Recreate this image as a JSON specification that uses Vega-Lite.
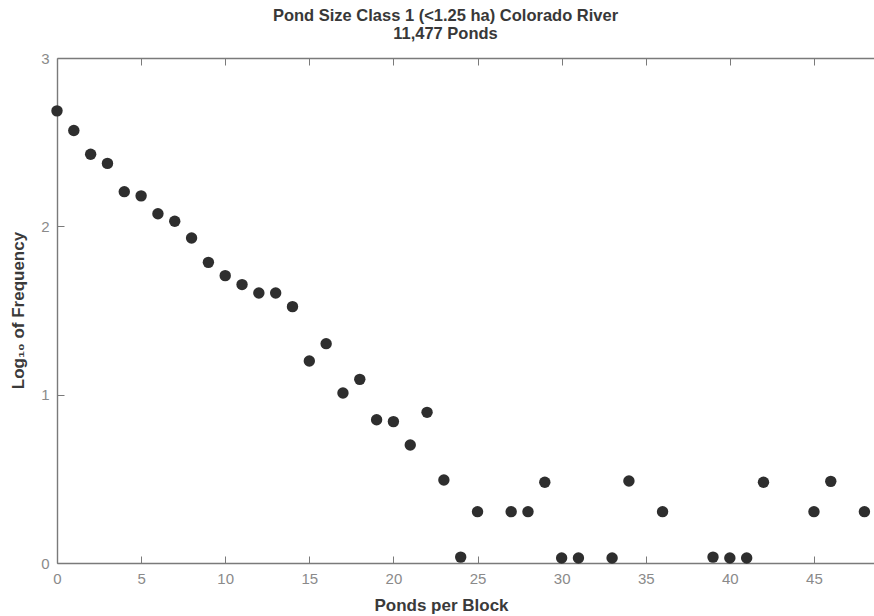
{
  "$schema": "https://vega.github.io/schema/vega-lite/v6.json",
  "autosize": {"type": "none"},
  "width": 817,
  "height": 505,
  "padding": {"left": 57, "top": 58, "right": 0, "bottom": 53},
  "background": "#ffffff",
  "config": {
    "view": {"stroke": null},
    "font": "Liberation Sans",
    "axis": {"grid": false}
  },
  "title": {
    "text": ["Pond Size Class 1 (<1.25 ha) Colorado River", "11,477 Ponds"],
    "anchor": "middle",
    "frame": "group",
    "dx": -20,
    "offset": 9,
    "fontSize": 16.5,
    "fontWeight": "bold",
    "color": "#383838",
    "lineHeight": 18,
    "font": "Liberation Sans"
  },
  "data": {
    "values": [
      {"ponds": 0, "logf": 2.686},
      {"ponds": 1, "logf": 2.569},
      {"ponds": 2, "logf": 2.428},
      {"ponds": 3, "logf": 2.374},
      {"ponds": 4, "logf": 2.206},
      {"ponds": 5, "logf": 2.181},
      {"ponds": 6, "logf": 2.075},
      {"ponds": 7, "logf": 2.030},
      {"ponds": 8, "logf": 1.931},
      {"ponds": 9, "logf": 1.786},
      {"ponds": 10, "logf": 1.707},
      {"ponds": 11, "logf": 1.654},
      {"ponds": 12, "logf": 1.604},
      {"ponds": 13, "logf": 1.604},
      {"ponds": 14, "logf": 1.523},
      {"ponds": 15, "logf": 1.200},
      {"ponds": 16, "logf": 1.303},
      {"ponds": 17, "logf": 1.010},
      {"ponds": 18, "logf": 1.091},
      {"ponds": 19, "logf": 0.851},
      {"ponds": 20, "logf": 0.840},
      {"ponds": 21, "logf": 0.701},
      {"ponds": 22, "logf": 0.895},
      {"ponds": 23, "logf": 0.493},
      {"ponds": 24, "logf": 0.035},
      {"ponds": 25, "logf": 0.305},
      {"ponds": 27, "logf": 0.305},
      {"ponds": 28, "logf": 0.305},
      {"ponds": 29, "logf": 0.480},
      {"ponds": 30, "logf": 0.03},
      {"ponds": 31, "logf": 0.03},
      {"ponds": 33, "logf": 0.03},
      {"ponds": 34, "logf": 0.487},
      {"ponds": 36, "logf": 0.305},
      {"ponds": 39, "logf": 0.035},
      {"ponds": 40, "logf": 0.03},
      {"ponds": 41, "logf": 0.03},
      {"ponds": 42, "logf": 0.480},
      {"ponds": 45, "logf": 0.305},
      {"ponds": 46, "logf": 0.485},
      {"ponds": 48, "logf": 0.305}
    ]
  },
  "layer": [
    {
      "mark": {"type": "circle", "size": 130, "color": "#2e2e2e", "opacity": 1},
      "encoding": {
        "x": {
          "field": "ponds",
          "type": "quantitative",
          "scale": {"domain": [0, 48.57], "nice": false, "zero": false},
          "axis": {
            "orient": "bottom",
            "values": [0, 5, 10, 15, 20, 25, 30, 35, 40, 45],
            "format": "d",
            "title": "Ponds per Block",
            "titleFontSize": 17,
            "titleFontWeight": "bold",
            "titleColor": "#3a3a3a",
            "titleX": 384,
            "titleY": 47,
            "titleBaseline": "alphabetic",
            "titleAnchor": "middle",
            "domainColor": "#7a7a7a",
            "domainWidth": 1.4,
            "tickColor": "#7a7a7a",
            "tickSize": -7,
            "labelColor": "#8a8a8a",
            "labelFontSize": 15,
            "labelPadding": 15,
            "labelFlush": false
          }
        },
        "y": {
          "field": "logf",
          "type": "quantitative",
          "scale": {"domain": [0, 3], "nice": false},
          "axis": {
            "values": [0, 1, 2, 3],
            "format": "d",
            "title": "Log₁₀ of Frequency",
            "titleFontSize": 17,
            "titleFontWeight": "bold",
            "titleColor": "#3a3a3a",
            "titleX": -39,
            "titleY": 252,
            "titleBaseline": "middle",
            "titleAnchor": "middle",
            "domainColor": "#7a7a7a",
            "domainWidth": 1.4,
            "tickColor": "#7a7a7a",
            "tickSize": -7,
            "labelColor": "#8a8a8a",
            "labelFontSize": 15,
            "labelPadding": 15,
            "labelFlush": false
          }
        }
      }
    },
    {
      "mark": {"type": "point", "opacity": 0},
      "encoding": {
        "x": {
          "field": "ponds",
          "type": "quantitative",
          "axis": {
            "orient": "top",
            "values": [5, 10, 15, 20, 25, 30, 35, 40, 45],
            "labels": false,
            "title": null,
            "domainColor": "#7a7a7a",
            "domainWidth": 1.4,
            "tickColor": "#7a7a7a",
            "tickSize": -7
          }
        },
        "y": {"field": "logf", "type": "quantitative"}
      }
    }
  ],
  "resolve": {"axis": {"x": "independent"}}
}
